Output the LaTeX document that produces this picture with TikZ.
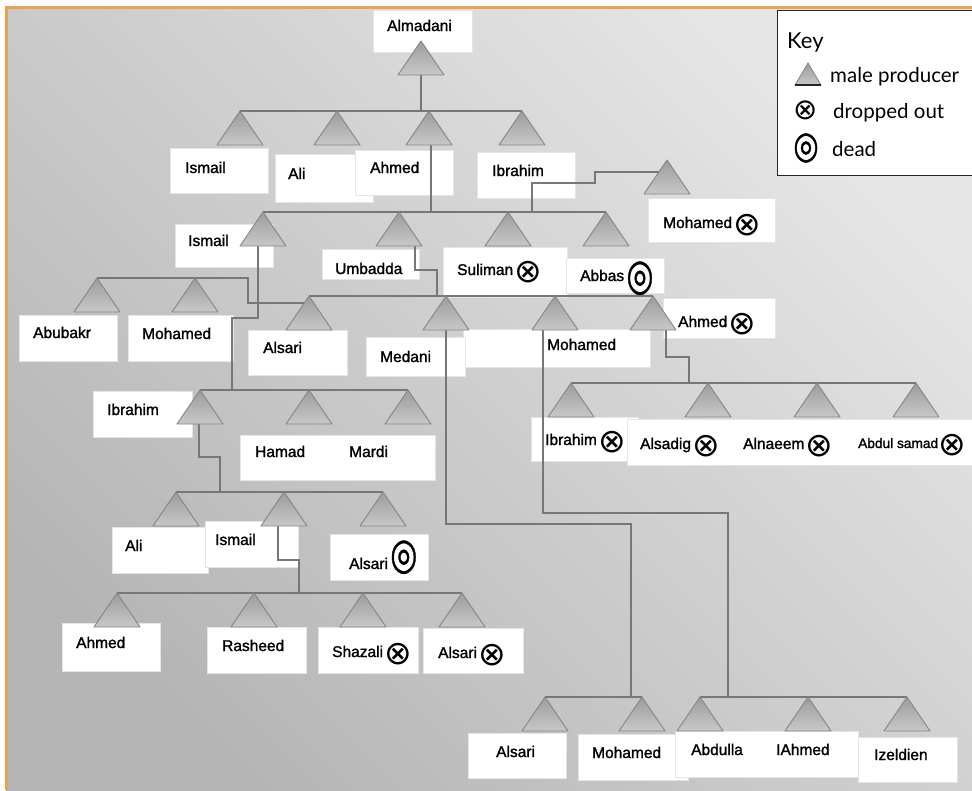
\documentclass[tikz,border=0pt]{standalone}
\usepackage{fontspec}
\setmainfont{Liberation Sans}
\newfontface\lblfont{Liberation Sans}[FakeBold=1.5]
\newfontfamily\keyfont{Lato}
\newfontface\symfont{DejaVu Sans}
\newfontface\symfontb{DejaVu Sans}[FakeBold=1.2]
\usetikzlibrary{calc}

\definecolor{bgL}{HTML}{E6E6E6}
\definecolor{bgD}{HTML}{B5B5B5}
\definecolor{orng}{HTML}{EAA24F}
\definecolor{lnk}{HTML}{777777}
\definecolor{triT}{HTML}{9C9C9C}
\definecolor{triB}{HTML}{C8C8C8}
\definecolor{triE}{HTML}{858585}

\newcommand\xo{\kern-3pt\raisebox{-7pt}{\symfont\fontsize{33}{33}\selectfont ⊗}}
\newcommand\dead[1][-8.5pt]{\kern-2pt\raisebox{#1}{\symfontb\fontsize{31}{31}\selectfont\scalebox{1.0}[1.4]{◎}}}
\newcommand\bx[5]{\node[box,anchor=north west,minimum width={#4-#2},minimum height={#5-#3}] (#1) at (#2,#3) {};}

\begin{document}
\begin{tikzpicture}[x=1pt,y=-1pt,
  box/.style={fill=white,draw=black!10,line width=0.6pt,inner sep=0pt,outer sep=0pt},
  lbl/.style={font=\lblfont\fontsize{15.5}{18}\selectfont,inner sep=0pt,anchor=base west,text=black},
  keytxt/.style={font=\keyfont\fontsize{20.5}{24}\selectfont,inner sep=0pt,anchor=base west},
  link/.style={draw=lnk,line width=1.7pt},
  tri/.pic={\shadedraw[top color=triT,bottom color=triB,draw=triE,line width=0.9pt,line join=round]
      (-23,34) -- (0,0) -- (23,34) -- cycle;
      \coordinate (-apex) at (0,0); \coordinate (-base) at (0,34);}
]
\useasboundingbox (0,0) rectangle (972,790);
\fill[white] (0,0) rectangle (972,790);
\shade[top color=bgL,bottom color=bgD,shading angle=-45] (6,7) rectangle (972,790);
\draw[orng,line width=3pt] (6,790) -- (6,7) -- (972,7);

% ---------- boxes ----------
\bx{b-almadani}{373}{10}{472}{52}
\bx{b-ismailA}{170}{148}{268}{193}
\bx{b-aliA}{275}{154}{373}{202}
\bx{b-ahmedA}{355}{150}{453}{195}
\bx{b-ibrahimA}{477}{152}{575}{198}
\bx{b-mohamedR}{648}{198}{775}{242}
\bx{b-ismailB}{175}{224}{273}{267}
\bx{b-umbadda}{322}{249}{419}{279}
\bx{b-suliman}{443}{247}{567}{297}
\bx{b-abbas}{566}{258}{664}{293}
\bx{b-abubakr}{19}{315}{117}{361}
\bx{b-mohamedL}{128}{315}{233}{361}
\bx{b-alsariC}{248}{330}{347}{375}
\bx{b-mohamedC}{463}{329}{650}{367}
\bx{b-medani}{366}{337}{465}{376}
\bx{b-ahmedC}{663}{298}{775}{338}
\bx{b-ibrahimD}{531}{417}{638}{461}
\bx{b-alsadig}{627}{419}{974}{465}
\bx{b-ibrahimE}{93}{391}{192}{437}
\bx{b-hamad}{240}{435}{435}{480}
\bx{b-aliF}{112}{527}{208}{573}
\bx{b-ismailF}{205}{521}{298}{567}
\bx{b-alsariF}{330}{534}{428}{580}
\bx{b-ahmedG}{62}{623}{160}{671}
\bx{b-rasheed}{207}{627}{306}{673}
\bx{b-shazali}{318}{627}{418}{673}
\bx{b-alsariG}{423}{628}{523}{673}
\bx{b-alsariH}{468}{733}{566}{778}
\bx{b-mohamedH}{578}{734}{688}{780}
\bx{b-abdulla}{675}{731}{858}{777}
\bx{b-izeldien}{858}{737}{957}{782}

% ---------- triangle anchors ----------
\foreach \n/\x/\y in {almadani/421/41,
  ismailA/240/111, aliA/337/111, ahmedA/429/111, ibrahimA/522/111,
  mohamedR/667/160,
  ismailB/263/212, umbadda/399/212, suliman/508/212, abbas/606/212,
  abubakr/97/278, mohamedL/195/278,
  alsariC/309/296, medani/446/296, mohamedC/555/296, ahmedC/653/296,
  ibrahimD/571/383, alsadig/708/383, alnaeem/817/383, abdulsamad/916/383,
  ibrahimE/200/390, hamad/309/390, mardi/408/390,
  aliF/176/492, ismailF/284/492, alsariF/383/492,
  ahmedG/117/593, rasheed/254/593, shazali/363/593, alsariG/462/593,
  alsariH/545/697, mohamedH/642/697, abdulla/700/697, iahmed/808/697, izeldien/907/697}
{ \coordinate (\n-apex) at (\x,\y); \coordinate (\n-base) at (\x,\y+34); }

% ---------- connectors ----------
\draw[link] (almadani-base) -- (almadani-base |- ismailA-apex);
\draw[link] (ismailA-apex) -- (ibrahimA-apex);
\draw[link] ([xshift=2pt]ahmedA-base) -- ([xshift=2pt]ahmedA-base |- ismailB-apex);
\draw[link] (ismailB-apex) -- (abbas-apex);
\draw[link] ([shift={(-8,12)}]mohamedR-apex) -- (595,172) -- (595,183) -- (532,183) -- (532,212);
\draw[link] ([xshift=16pt]umbadda-base) -- (415,270) -- (437,270) -- (437,296);
\draw[link] (alsariC-apex) -- (ahmedC-apex);
\draw[link] (abubakr-apex) -- (248,278) -- (248,303) -- (304,303);
\draw[link] ([xshift=-5pt]ismailB-base) -- (258,318) -- (232,318) -- (232,390);
\draw[link] (ibrahimE-apex) -- (mardi-apex);
\draw[link] ([xshift=-1pt]ibrahimE-base) -- (199,457) -- (220,457) -- (220,492);
\draw[link] (aliF-apex) -- (alsariF-apex);
\draw[link] ([xshift=-6pt]ismailF-base) -- (278,560) -- (299,560) -- (299,593);
\draw[link] (ahmedG-apex) -- (alsariG-apex);
\draw[link] ([xshift=13pt]ahmedC-base) -- (666,357) -- (689,357) -- (689,383);
\draw[link] (ibrahimD-apex) -- (abdulsamad-apex);
\draw[link] (medani-base) -- (446,524) -- (631,524) -- (631,697);
\draw[link] ([xshift=-12pt]mohamedC-base) -- (543,513) -- (728,513) -- (728,697);
\draw[link] (alsariH-apex) -- (mohamedH-apex);
\draw[link] (abdulla-apex) -- (izeldien-apex);

% ---------- triangles ----------
\foreach \n in {almadani,ismailA,aliA,ahmedA,ibrahimA,mohamedR,ismailB,umbadda,suliman,abbas,
  abubakr,mohamedL,alsariC,medani,mohamedC,ahmedC,ibrahimD,alsadig,alnaeem,abdulsamad,
  ibrahimE,hamad,mardi,aliF,ismailF,alsariF,ahmedG,rasheed,shazali,alsariG,
  alsariH,mohamedH,abdulla,iahmed,izeldien}
{ \pic (p-\n) at (\n-apex) {tri}; }

% ---------- labels ----------
\node[lbl] (t-almadani) at (387,31) {Almadani};
\node[lbl] (t-ismailA) at (185,173) {Ismail};
\node[lbl] (t-aliA) at (288,179) {Ali};
\node[lbl] (t-ahmedA) at (370,173) {Ahmed};
\node[lbl] (t-ibrahimA) at (492,176) {Ibrahim};
\node[lbl] (t-mohamedR) at (663,228) {Mohamed \xo};
\node[lbl] (t-ismailB) at (188,246) {Ismail};
\node[lbl] (t-umbadda) at (335,274) {Umbadda};
\node[lbl] (t-suliman) at (457,275) {Suliman \xo};
\node[lbl] (t-abbas) at (580,281) {Abbas \dead};
\node[lbl] (t-abubakr) at (33,338) {Abubakr};
\node[lbl] (t-mohamedL) at (142,339) {Mohamed};
\node[lbl] (t-alsariC) at (263,353) {Alsari};
\node[lbl] (t-medani) at (380,362) {Medani};
\node[lbl] (t-mohamedC) at (547,350) {Mohamed};
\node[lbl] (t-ahmedC) at (678,327) {Ahmed \xo};
\node[lbl] (t-ibrahimD) at (545,445) {Ibrahim \xo};
\node[lbl] (t-alsadig) at (640,449) {Alsadig \xo};
\node[lbl] (t-alnaeem) at (743,449) {Alnaeem \xo};
\node[lbl,font=\lblfont\fontsize{13.7}{16}\selectfont] (t-abdulsamad) at (858,448) {Abdul samad \xo};
\node[lbl] (t-ibrahimE) at (107,415) {Ibrahim};
\node[lbl] (t-hamad) at (255,457) {Hamad};
\node[lbl] (t-mardi) at (349,457) {Mardi};
\node[lbl] (t-aliF) at (125,551) {Ali};
\node[lbl] (t-ismailF) at (215,545) {Ismail};
\node[lbl] (t-alsariF) at (349,569) {Alsari \dead[0.5pt]};
\node[lbl] (t-ahmedG) at (76,648) {Ahmed};
\node[lbl] (t-rasheed) at (222,651) {Rasheed};
\node[lbl] (t-shazali) at (332,657) {Shazali \xo};
\node[lbl] (t-alsariG) at (438,658) {Alsari \xo};
\node[lbl] (t-alsariH) at (496,757) {Alsari};
\node[lbl] (t-mohamedH) at (592,758) {Mohamed};
\node[lbl] (t-abdulla) at (691,755) {Abdulla};
\node[lbl] (t-iahmed) at (776,755) {IAhmed};
\node[lbl] (t-izeldien) at (874,760) {Izeldien};

% ---------- key ----------
\node[fill=white,draw=black!85,line width=1.2pt,anchor=north west,minimum width=200,minimum height=165,inner sep=0pt] (key) at (777,10) {};
\node[keytxt,font=\keyfont\fontsize{22}{24}\selectfont] (k-title) at (787,48) {Key};
\shadedraw[top color=triT,bottom color=triB,draw=triE,line width=0.8pt] (795,85) -- (808,63) -- (821,85) -- cycle;
\draw[black!85,line width=1.6pt] (795,85) -- (821,85);
\node[keytxt] (k-male) at (830,82) {male producer};
\node[inner sep=0pt] (k-xo) at (806,110) {\symfont\fontsize{29}{29}\selectfont ⊗};
\node[keytxt] (k-drop) at (833,118) {dropped out};
\node[inner sep=0pt] (k-dd) at (806,148) {\symfontb\fontsize{29}{29}\selectfont\scalebox{1.0}[1.3]{◎}};
\node[keytxt] (k-dead) at (832,156) {dead};
\end{tikzpicture}
\end{document}
